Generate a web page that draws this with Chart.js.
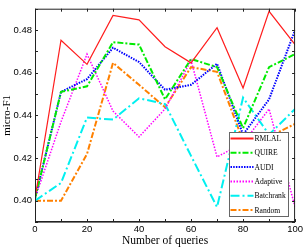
<!DOCTYPE html>
<html>
<head>
<meta charset="utf-8">
<script src="https://cdn.jsdelivr.net/npm/chart.js@4/dist/chart.umd.min.js"></script>
<style>
  html, body { margin: 0; padding: 0; background: #fff; }
  #wrap { width: 305px; height: 249px; }
</style>
</head>
<body>
<div id="wrap"><canvas id="f1Chart" width="305" height="249"></canvas></div>
<script>
// queries on the x axis
const queries = [0, 10, 20, 30, 40, 50, 60, 70, 80, 90, 100];

// micro-F1 per method
const rmlal     = [0.401, 0.4752, 0.4639, 0.4868, 0.4848, 0.4722, 0.4646, 0.4811, 0.4528, 0.4888, 0.4732];
const quire     = [0.401, 0.451, 0.4536, 0.4743, 0.4732, 0.4475, 0.4664, 0.4626, 0.434, 0.4626, 0.4687];
const audi      = [0.401, 0.451, 0.457, 0.4717, 0.465, 0.452, 0.4543, 0.4642, 0.431, 0.4475, 0.480];
const adaptive  = [0.401, 0.437, 0.4687, 0.442, 0.4299, 0.443, 0.4657, 0.4205, 0.427, 0.443, 0.397];
const batchrank = [0.400, 0.4083, 0.439, 0.438, 0.448, 0.4453, 0.421, 0.397, 0.4483, 0.431, 0.443];
const random    = [0.400, 0.400, 0.4219, 0.4646, 0.4543, 0.4438, 0.4626, 0.4604, 0.428, 0.430, 0.436];

const methodNames = ['RMLAL', 'QUIRE', 'AUDI', 'Adaptive', 'Batchrank', 'Random'];

const toPoints = vals => vals.map((v, i) => ({ x: queries[i], y: v }));

const serif = '"Liberation Serif", "DejaVu Serif", serif';
const sans = '"Liberation Sans", Arial, sans-serif';

function series(label, vals, color, width, dash) {
  return {
    label: label,
    data: toPoints(vals),
    borderColor: color,
    backgroundColor: color,
    borderWidth: width,
    borderDash: dash,
    pointRadius: 0,
    tension: 0,
    fill: false
  };
}

// box round the plot with inward tick marks on all four sides
const framePlugin = {
  id: 'frame',
  afterDatasetsDraw(chart) {
    const { ctx, chartArea: a, scales } = chart;
    ctx.save();
    ctx.strokeStyle = '#222';
    ctx.lineWidth = 1;
    ctx.strokeRect(a.left + 0.5, a.top + 0.5, a.right - a.left - 1, a.bottom - a.top - 1);
    // bottom edge looks a bit heavier in the original
    ctx.strokeStyle = '#777';
    ctx.beginPath();
    ctx.moveTo(a.left, a.bottom + 0.5);
    ctx.lineTo(a.right, a.bottom + 0.5);
    ctx.stroke();
    ctx.strokeStyle = '#222';
    const len = 3;
    ctx.beginPath();
    scales.x.ticks.forEach(t => {
      const px = Math.round(scales.x.getPixelForValue(t.value)) + 0.5;
      ctx.moveTo(px, a.bottom); ctx.lineTo(px, a.bottom - len);
      ctx.moveTo(px, a.top); ctx.lineTo(px, a.top + len);
    });
    scales.y.ticks.forEach(t => {
      const py = Math.round(scales.y.getPixelForValue(t.value)) + 0.5;
      ctx.moveTo(a.left, py); ctx.lineTo(a.left + len, py);
      ctx.moveTo(a.right, py); ctx.lineTo(a.right - len, py);
    });
    ctx.stroke();
    ctx.restore();
  }
};

// legend box in the lower right of the plot
const boxLegend = {
  id: 'boxLegend',
  afterDraw(chart) {
    const { ctx } = chart;
    const x0 = 229.5, y0 = 132.5, w = 59, h = 84;
    ctx.save();
    ctx.fillStyle = '#fff';
    ctx.fillRect(x0, y0, w, h);
    ctx.strokeStyle = '#666';
    ctx.lineWidth = 1;
    ctx.strokeRect(x0, y0, w, h);
    ctx.font = '7.6px ' + serif;
    ctx.textBaseline = 'middle';
    ctx.fillStyle = '#000';
    chart.data.datasets.forEach((ds, i) => {
      const y = 138.5 + i * 14.3;
      ctx.strokeStyle = ds.borderColor;
      ctx.lineWidth = Math.max(ds.borderWidth, 2);
      ctx.setLineDash(ds.borderDash || []);
      ctx.beginPath();
      ctx.moveTo(x0 + 1, y);
      ctx.lineTo(x0 + 24, y);
      ctx.stroke();
      ctx.setLineDash([]);
      ctx.fillText(ds.label, x0 + 25, y + 0.5);
    });
    ctx.restore();
  }
};

new Chart(document.getElementById('f1Chart'), {
  type: 'line',
  data: {
    datasets: [
      series(methodNames[0], rmlal, 'rgb(255,30,30)', 1.2, []),
      series(methodNames[1], quire, 'rgb(0,235,0)', 2, [6, 2, 2, 2]),
      series(methodNames[2], audi, 'rgb(0,0,255)', 2, [1.5, 1.2]),
      series(methodNames[3], adaptive, 'rgb(255,0,255)', 1.5, [1.5, 1.5]),
      series(methodNames[4], batchrank, 'rgb(0,240,240)', 2, [9, 3, 2, 3]),
      series(methodNames[5], random, 'rgb(255,128,0)', 2, [6, 2, 2, 2])
    ]
  },
  options: {
    responsive: false,
    animation: false,
    layout: { padding: { top: 1, right: 8, left: 0, bottom: 0 } },
    plugins: {
      legend: { display: false },
      tooltip: { enabled: false }
    },
    scales: {
      x: {
        type: 'linear',
        min: 0,
        max: 100,
        afterFit: s => { s.height = 27; },
        grid: { display: false, drawTicks: false },
        border: { display: false },
        ticks: {
          stepSize: 10,
          autoSkip: false,
          maxRotation: 0,
          padding: 2,
          color: '#000',
          font: { family: sans, size: 9.5 },
          callback: v => (v % 20 === 0 ? String(v) : '')
        },
        title: {
          display: true,
          text: 'Number of queries',
          color: '#000',
          font: { family: serif, size: 11.5 },
          padding: { top: 0, bottom: 1 }
        }
      },
      y: {
        min: 0.39,
        max: 0.49,
        afterFit: s => { s.width = 35; },
        grid: { display: false, drawTicks: false },
        border: { display: false },
        ticks: {
          stepSize: 0.01,
          autoSkip: false,
          padding: 3,
          color: '#000',
          font: { family: sans, size: 9.5 },
          callback: v => (Math.round(v * 100) % 2 === 0 ? v.toFixed(2) : '')
        },
        title: {
          display: true,
          text: 'micro-F1',
          color: '#000',
          font: { family: serif, size: 11 },
          padding: { top: 1, bottom: 0 }
        }
      }
    }
  },
  plugins: [framePlugin, boxLegend]
});
</script>
</body>
</html>
